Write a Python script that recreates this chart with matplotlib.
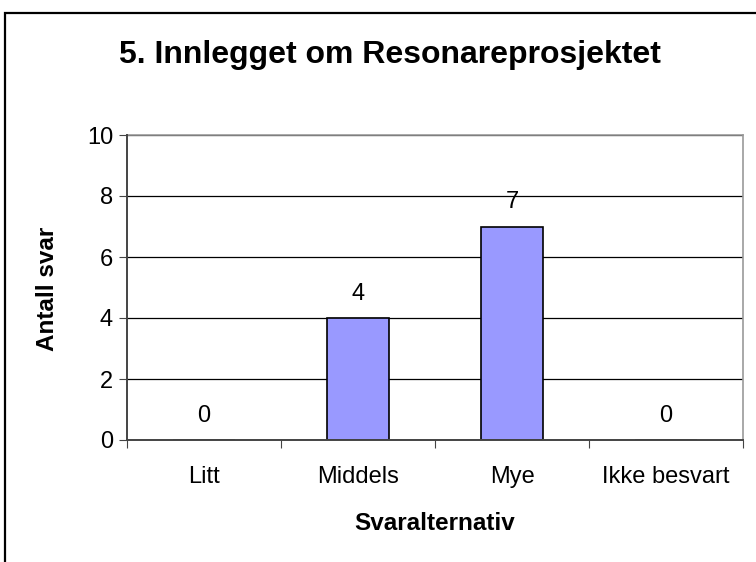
import matplotlib
matplotlib.use("Agg")
import matplotlib.pyplot as plt
from matplotlib.patches import Rectangle

categories = ["Litt", "Middels", "Mye", "Ikke besvart"]
values = [0, 4, 7, 0]
yticks = [0, 2, 4, 6, 8, 10]

plt.rcParams['font.family'] = ['Liberation Sans', 'DejaVu Sans']

fig = plt.figure(figsize=(7.56, 5.62), dpi=100)
W, H = 756, 562
# outer chart border (top and left visible)
fig.add_artist(Rectangle((5 / W, -0.1), 1.2, (562 - 13) / H + 0.1, transform=fig.transFigure,
                         fill=False, edgecolor='black', linewidth=1.6))

ax = fig.add_axes([127 / W, (562 - 440) / H, (743 - 127) / W, (440 - 135) / H])
x = list(range(len(categories)))
ax.bar(x, values, width=0.4, color='#9999FF', edgecolor='black', linewidth=1.2, zorder=2)
for xi, v in zip(x, values):
    ax.text(xi, v + 0.6, str(v), ha='center', va='baseline', fontsize=17)

ax.set_xlim(-0.5, len(categories) - 0.5)
ax.set_ylim(0, 10)
ax.set_yticks(yticks)
ax.yaxis.grid(True, color='black', linewidth=0.9, zorder=0)
ax.set_axisbelow(True)

ax.set_xticks([i + 0.5 for i in range(-1, len(categories))])
ax.set_xticklabels([])
ax.set_xticks(x, minor=True)
ax.set_xticklabels(categories, minor=True, fontsize=17)
ax.tick_params(axis='x', which='minor', length=0, pad=19)
ax.tick_params(axis='x', which='major', length=6, direction='out', color='#444444')
ax.tick_params(axis='y', length=6, direction='out', labelsize=17, color='#444444', pad=4)

for s in ['top', 'right']:
    ax.spines[s].set_color('#999999')
    ax.spines[s].set_linewidth(1.2)
for s in ['left', 'bottom']:
    ax.spines[s].set_color('#444444')
    ax.spines[s].set_linewidth(1.4)
    ax.spines[s].set_zorder(3)

fig.text(48 / W, 1 - 289 / H, "Antall svar", ha='center', va='center', rotation=90,
         fontsize=17.5, fontweight='bold')
fig.text(435 / W, 1 - 524 / H, "Svaralternativ", ha='center', va='center',
         fontsize=17.5, fontweight='bold')
fig.text(390 / W, 1 - 55 / H, "5. Innlegget om Resonareprosjektet", ha='center', va='center',
         fontsize=23, fontweight='bold')

fig.savefig("out.png", dpi=100)
